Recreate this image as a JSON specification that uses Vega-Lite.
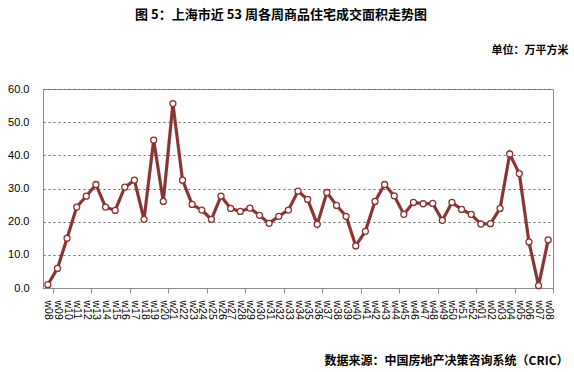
{
  "$schema": "https://vega.github.io/schema/vega-lite/v6.json",
  "autosize": {"type": "none"},
  "width": 510,
  "height": 199,
  "padding": {"left": 43, "top": 89, "right": 21, "bottom": 84},
  "background": "white",
  "title": {
    "text": "图 5：上海市近 53 周各周商品住宅成交面积走势图",
    "font": "Noto Sans CJK SC",
    "fontSize": 13,
    "fontWeight": "bold",
    "color": "#000000",
    "anchor": "middle",
    "dx": -17,
    "offset": 22
  },
  "config": {
    "view": {"stroke": "#8c8c8c", "strokeWidth": 1},
    "axis": {"labelFont": "Liberation Sans", "labelFontSize": 11, "labelColor": "#000000"}
  },
  "data": {
    "values": [
      {"week": "w08", "area": 1.0},
      {"week": "w09", "area": 5.9},
      {"week": "w10", "area": 15.0},
      {"week": "w11", "area": 24.4},
      {"week": "w12", "area": 27.7},
      {"week": "w13", "area": 31.2},
      {"week": "w14", "area": 24.4},
      {"week": "w15", "area": 23.4},
      {"week": "w16", "area": 30.4},
      {"week": "w17", "area": 32.5},
      {"week": "w18", "area": 20.7},
      {"week": "w19", "area": 44.6},
      {"week": "w20", "area": 26.1},
      {"week": "w21", "area": 55.6},
      {"week": "w22", "area": 32.5},
      {"week": "w23", "area": 25.2},
      {"week": "w24", "area": 23.5},
      {"week": "w25", "area": 20.7},
      {"week": "w26", "area": 27.7},
      {"week": "w27", "area": 24.0},
      {"week": "w28", "area": 23.1},
      {"week": "w29", "area": 24.1},
      {"week": "w30", "area": 21.9},
      {"week": "w31", "area": 19.5},
      {"week": "w32", "area": 21.6},
      {"week": "w33", "area": 23.5},
      {"week": "w34", "area": 29.2},
      {"week": "w35", "area": 26.7},
      {"week": "w36", "area": 19.2},
      {"week": "w37", "area": 28.8},
      {"week": "w38", "area": 24.9},
      {"week": "w39", "area": 21.6},
      {"week": "w40", "area": 12.7},
      {"week": "w41", "area": 17.1},
      {"week": "w42", "area": 26.1},
      {"week": "w43", "area": 31.2},
      {"week": "w44", "area": 27.8},
      {"week": "w45", "area": 22.2},
      {"week": "w46", "area": 25.8},
      {"week": "w47", "area": 25.4},
      {"week": "w48", "area": 25.5},
      {"week": "w49", "area": 20.4},
      {"week": "w50", "area": 25.8},
      {"week": "w51", "area": 23.7},
      {"week": "w52", "area": 22.2},
      {"week": "w01", "area": 19.3},
      {"week": "w02", "area": 19.4},
      {"week": "w03", "area": 24.0},
      {"week": "w04", "area": 40.4},
      {"week": "w05", "area": 34.5},
      {"week": "w06", "area": 13.9},
      {"week": "w07", "area": 0.7},
      {"week": "w08 ", "area": 14.5}
    ]
  },
  "encoding": {
    "x": {"field": "week", "type": "ordinal", "sort": null, "scale": {"paddingInner": 0, "paddingOuter": 0},
      "axis": {"title": "数据来源：中国房地产决策咨询系统（CRIC）", "titleFont": "Noto Sans CJK SC", "titleFontSize": 12, "titleFontWeight": "bold", "titleColor": "#000000", "titleAnchor": "end", "titleAlign": "right", "titleX": 525, "titleY": 72, "titleBaseline": "middle",
        "labelAngle": 90, "labelAlign": "left", "labelBaseline": "middle", "labelPadding": 7, "labelExpr": "trim(datum.label)", "labelFontSize": 10.5, "labelOverlap": false,
        "ticks": true, "tickBand": "extent", "tickSize": 5, "tickColor": "#8c8c8c", "domainColor": "#8c8c8c",
        "tickOpacity": {"expr": "indexof(['w08','w12','w16','w20','w24','w28','w32','w36','w40','w44','w48','w52','w04','w08 '], datum.value) >= 0 ? 1 : 0"}}},
    "y": {"field": "area", "type": "quantitative", "scale": {"domain": [0, 60], "nice": false},
      "axis": {"values": [0, 10, 20, 30, 40, 50, 60], "format": ".1f", "ticks": false, "labelPadding": 14, "labelOverlap": false, "domainColor": "#8c8c8c", "gridColor": "#666666", "gridDash": [2, 3], "gridWidth": 1,
        "title": "单位：万平方米", "titleFont": "Noto Sans CJK SC", "titleFontSize": 11, "titleFontWeight": "bold", "titleColor": "#000000", "titleAngle": 0, "titleAlign": "right", "titleBaseline": "middle", "titleX": 525, "titleY": -39}}
  },
  "layer": [
    {"mark": {"type": "line", "color": "#000000", "opacity": 0.18, "strokeWidth": 3.5, "dx": 2, "dy": 2}},
    {"mark": {"type": "line", "color": "#8b3232", "strokeWidth": 3}},
    {"mark": {"type": "point", "filled": true, "fill": "#ffffff", "stroke": "#8b3232", "strokeWidth": 1.3, "size": 36, "opacity": 1}}
  ]
}
